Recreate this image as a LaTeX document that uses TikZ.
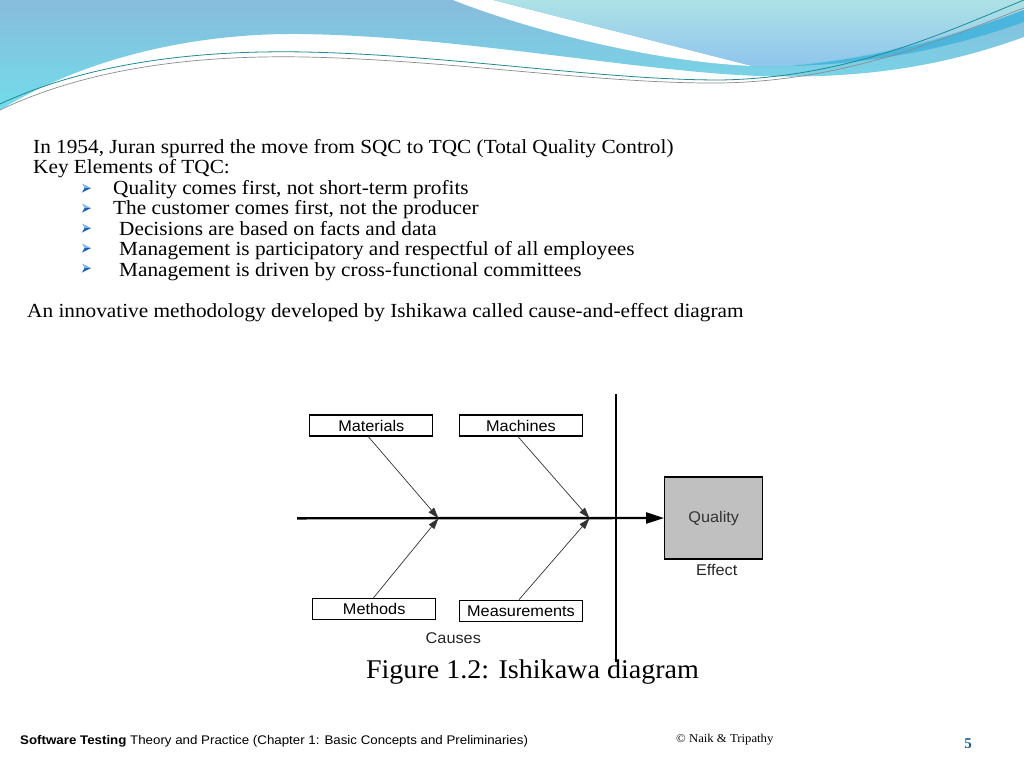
\documentclass[tikz,border=0pt]{standalone}
\usepackage{fontspec}
\setmainfont{Liberation Serif}
\setsansfont{Liberation Sans}
\usetikzlibrary{arrows.meta}
\definecolor{blueA}{HTML}{88BCDC}
\definecolor{blueB}{HTML}{72DCEA}
\definecolor{paleA}{HTML}{ADE2E6}
\definecolor{paleB}{HTML}{8FC4EE}
\definecolor{bandD}{HTML}{4BB6DD}
\definecolor{tealL}{HTML}{1F8A92}
\definecolor{bulD}{HTML}{1E5FB5}
\definecolor{bulL}{HTML}{7DB4EA}
\definecolor{qgray}{HTML}{C0C0C0}
\definecolor{numc}{HTML}{1F5E8C}
\tikzset{
  body/.style={anchor=base west, inner sep=0pt, xscale=1.063, font=\fontsize{20}{22}\selectfont},
  cause/.style={draw, line width=1.3pt, minimum width=123pt, minimum height=21pt, inner sep=0pt},
  dtext/.style={font=\sffamily\fontsize{15.5}{17}\selectfont},
  lbl/.style={inner sep=0pt, font=\sffamily\fontsize{15.5}{17}\selectfont},
  branch/.style={line width=0.7pt, draw=black!80, -{Triangle[length=11pt,width=7pt]}},
  bulletpic/.pic={
    \fill[bulL] (0,-4.5) -- (9,0) -- (2.6,0) -- cycle;
    \fill[bulD] (0,4.5) -- (9,0) -- (2.6,0) -- cycle;
  }
}
\newcommand{\dt}[1]{\scalebox{1.05}[1]{#1}}
\begin{document}
\begin{tikzpicture}[x=1pt,y=-1pt]
\useasboundingbox (0,0) rectangle (1024,768);
\fill[white] (0,0) rectangle (1024,768);
% header wave
\shade[top color=blueA, bottom color=blueB] (0,0) -- (1024,0) -- (1024,37)
  .. controls (960,60) and (880,80) .. (760,76)
  .. controls (640,72) and (460,36) .. (300,34)
  .. controls (200,33) and (90,55) .. (0,110) -- cycle;
\fill[white] (453,0) .. controls (540,34) and (660,62) .. (752,66)
  .. controls (690,50) and (570,20) .. (493,0) -- cycle;
\shade[top color=paleA, bottom color=paleB] (493,0) .. controls (570,20) and (690,50) .. (752,66)
  .. controls (800,68) and (900,55) .. (1024,10) -- (1024,0) -- cycle;
\fill[bandD] (790,66) .. controls (900,56) and (970,30) .. (1024,10) -- (1024,22)
  .. controls (960,45) and (880,64) .. (790,66) -- cycle;
\draw[tealL, line width=0.8pt] (0,104) .. controls (90,62) and (200,50) .. (305,52)
  .. controls (450,55) and (600,80) .. (720,80) .. controls (850,78) and (950,30) .. (1024,0);
\draw[black!45, line width=0.7pt] (0,110) .. controls (90,67) and (200,55) .. (305,57)
  .. controls (450,60) and (600,84) .. (720,83) .. controls (850,81) and (950,36) .. (1024,8);
% text
\node[body] (t1) at (33,153) {In 1954, Juran spurred the move from SQC to TQC (Total Quality Control)};
\node[body] (t2) at (33,173) {Key Elements of TQC:};
\node[body] (b1) at (113,194) {Quality comes first, not short-term profits};
\node[body] (b2) at (113,214.5) {The customer comes first, not the producer};
\node[body] (b3) at (119,235) {Decisions are based on facts and data};
\node[body] (b4) at (119,255.5) {Management is participatory and respectful of all employees};
\node[body] (b5) at (119,276) {Management is driven by cross-functional committees};
\pic at (82,188) {bulletpic};
\pic at (82,208) {bulletpic};
\pic at (82,228) {bulletpic};
\pic at (82,248) {bulletpic};
\pic at (82,268) {bulletpic};
\node[body] (t3) at (27,317) {An innovative methodology developed by Ishikawa called cause-and-effect diagram};
% diagram
\node[cause, dtext] (mat) at (371.3,425.5) {\dt{Materials}};
\node[cause, dtext] (mac) at (521,425.5) {\dt{Machines}};
\node[cause, dtext] (met) at (374.2,609.3) {\dt{Methods}};
\node[cause, dtext] (mea) at (521,610.8) {\dt{Measurements}};
\node[draw, line width=1.3pt, fill=qgray, minimum width=98pt, minimum height=82pt, inner sep=0pt,
      dtext, text=black!80] (q) at (713.7,518) {\dt{Quality}};
\node[lbl, text=black!85] (eff) at (716.7,570) {\dt{Effect}};
\node[lbl, text=black!85] (cau) at (453.3,638.3) {\dt{Causes}};
\coordinate (s0) at (297,518.3);
\coordinate (j1) at (438.5,518.3);
\coordinate (j2) at (589.5,518.3);
\coordinate (v0) at (616,394);
\coordinate (v1) at (616,662);
\draw[line width=2.4pt, -{Triangle[length=18pt,width=11pt]}] (s0) -- (q.west);
\draw[line width=2.6pt] (v0) -- (v1);
\draw[branch] (mat.south) ++(-3,0) -- (j1);
\draw[branch] (mac.south) ++(-3,0) -- (j2);
\draw[branch] (met.north) ++(-1,0) -- (j1);
\draw[branch] (mea.north) ++(-2,0) -- (j2);
\node[anchor=base, inner sep=0pt, xscale=1.04, font=\fontsize{27}{29}\selectfont] (cap) at (532.5,678) {Figure 1.2: Ishikawa diagram};
% footer
\node[anchor=base west, inner sep=0pt, xscale=1.065, font=\sffamily\fontsize{12.5}{14}\selectfont] (f1) at (20,744)
  {\textbf{Software Testing} Theory and Practice (Chapter 1: Basic Concepts and Preliminaries)};
\node[anchor=base west, inner sep=0pt, xscale=1.06, font=\fontsize{12}{14}\selectfont] (f2) at (676,742) {© Naik \& Tripathy};
\node[anchor=base, inner sep=0pt, text=numc, font=\bfseries\fontsize{15}{17}\selectfont] (f3) at (968,748) {5};
\end{tikzpicture}
\end{document}
